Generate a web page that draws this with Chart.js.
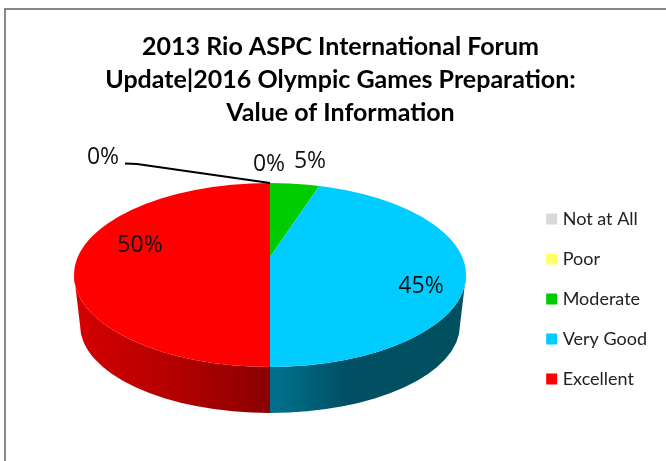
<!DOCTYPE html>
<html>
<head>
<meta charset="utf-8">
<title>Value of Information</title>
<script src="https://cdn.jsdelivr.net/npm/chart.js@4"></script>
<style>
  html, body { margin: 0; padding: 0; background: #fff; }
  #wrap { position: relative; width: 666px; height: 461px; }
</style>
</head>
<body>
<div id="wrap"><canvas id="pie"></canvas></div>
<script>
const titleLines = [
  "2013 Rio ASPC International Forum",
  "Update|2016 Olympic Games Preparation:",
  "Value of Information",
];
const categories = ["Not at All", "Poor", "Moderate", "Very Good", "Excellent"];
const shares = [0, 0, 5, 45, 50];
const colors = ["#d9d9d9", "#ffff66", "#00cc00", "#00ccff", "#ff0000"];

// where the top face of the "3D" pie ends up on the canvas. The apex sits above
// the middle of the ellipse, like the perspective in the original.
const TOP = { cx: 270, cy: 275, rx: 196, ry: 92 };
const BOTTOM = { cx: 270, cy: 325, rx: 190, ry: 88 };
const APEX_Y = 257;
const OVERSCAN = 1.3; // arcs are drawn bigger, then clipped to the ellipse

// data labels: index into shares, x, y
const labelSpots = [
  [0, 103, 157],
  [1, 269, 164],
  [2, 310, 161],
  [3, 421, 286],
  [4, 140, 245],
];

// left to right along each visible wall piece
const wallStops = {
  3: [[0, "#00708f"], [0.1, "#006a85"], [0.4, "#004f63"], [1, "#00505f"]],
  4: [[0, "#d60000"], [0.5, "#b40000"], [1, "#8a0000"]],
};

const pie3d = {
  id: "pie3d",
  beforeDraw(chart) {
    // grey frame of the pasted chart, cut off on the right
    const { ctx } = chart;
    ctx.save();
    ctx.strokeStyle = "#888888";
    ctx.lineWidth = 2;
    ctx.beginPath();
    ctx.moveTo(5, 461);
    ctx.lineTo(5, 9);
    ctx.lineTo(666, 9);
    ctx.stroke();
    ctx.restore();
  },
  beforeDatasetsDraw(chart) {
    const { ctx } = chart;
    const arcs = chart.getDatasetMeta(0).data;
    // side wall, only the front half (canvas angles 0..PI) shows
    arcs.forEach((arc, i) => {
      const from = Math.max(arc.startAngle, 0);
      const to = Math.min(arc.endAngle, Math.PI);
      if (to <= from || !wallStops[i]) return;
      const x0 = TOP.cx + TOP.rx * Math.cos(from);
      const x1 = TOP.cx + TOP.rx * Math.cos(to);
      const g = ctx.createLinearGradient(Math.min(x0, x1), 0, Math.max(x0, x1), 0);
      wallStops[i].forEach(([p, c]) => g.addColorStop(p, c));
      ctx.save();
      ctx.fillStyle = g;
      ctx.beginPath();
      ctx.ellipse(TOP.cx, TOP.cy, TOP.rx, TOP.ry, 0, from, to);
      ctx.ellipse(BOTTOM.cx, BOTTOM.cy, BOTTOM.rx, BOTTOM.ry, 0, to, from, true);
      ctx.closePath();
      ctx.fill();
      ctx.restore();
    });
    // squash the library's arcs into the top face
    const a = arcs[0];
    const sx = (TOP.rx / a.outerRadius) * OVERSCAN;
    const sy = (TOP.ry / a.outerRadius) * OVERSCAN;
    ctx.save();
    ctx.beginPath();
    ctx.ellipse(TOP.cx, TOP.cy, TOP.rx, TOP.ry, 0, 0, Math.PI * 2);
    ctx.clip();
    ctx.translate(TOP.cx, APEX_Y);
    ctx.scale(sx, sy);
    ctx.translate(-a.x, -a.y);
  },
  afterDatasetsDraw(chart) {
    const { ctx } = chart;
    ctx.restore();
    // leader line for the first 0%
    ctx.save();
    ctx.strokeStyle = "#000000";
    ctx.lineWidth = 2;
    ctx.beginPath();
    ctx.moveTo(125, 163.5);
    ctx.lineTo(137, 164);
    ctx.lineTo(270, 183);
    ctx.stroke();
    // percent labels
    ctx.fillStyle = "#111111";
    ctx.font = '23px "Open Sans"';
    ctx.textAlign = "center";
    ctx.textBaseline = "middle";
    labelSpots.forEach(([i, x, y]) => ctx.fillText(shares[i] + "%", x, y));
    ctx.restore();
  },
};

new Chart(document.getElementById("pie"), {
  type: "pie",
  data: {
    labels: categories,
    datasets: [{ data: shares, backgroundColor: colors, borderWidth: 0, clip: false }],
  },
  options: {
    responsive: true,
    maintainAspectRatio: false,
    animation: false,
    rotation: 0,
    layout: { padding: { left: 24, right: 9, top: 0, bottom: 51 } },
    plugins: {
      tooltip: { enabled: false },
      title: {
        display: true,
        text: titleLines,
        color: "#000000",
        font: { family: "Lato", size: 25, weight: "bold", lineHeight: 1.31 },
        padding: { top: 31, bottom: 30 },
      },
      legend: {
        position: "right",
        align: "end",
        labels: {
          color: "#222222",
          font: { family: "Lato", size: 18 },
          usePointStyle: true,
          pointStyle: "rect",
          boxWidth: 4,
          boxHeight: 11,
          padding: 22,
        },
      },
    },
  },
  plugins: [pie3d],
});
</script>
</body>
</html>
